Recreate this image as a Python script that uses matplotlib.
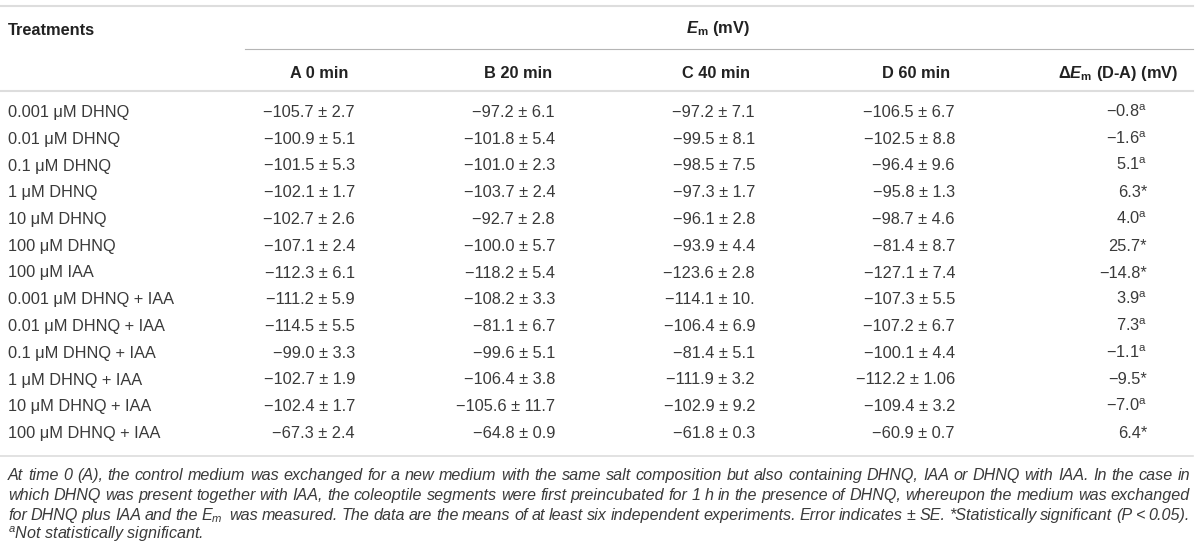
import matplotlib
matplotlib.use("Agg")
import matplotlib.pyplot as plt

plt.rcParams['font.family'] = ['Liberation Sans', 'DejaVu Sans']
plt.rcParams['mathtext.fontset'] = 'custom'
plt.rcParams['mathtext.rm'] = 'Liberation Sans'
plt.rcParams['mathtext.it'] = 'Liberation Sans:italic'
plt.rcParams['mathtext.bf'] = 'Liberation Sans:bold'
plt.rcParams['mathtext.bfit'] = 'Liberation Sans:bold:italic'

# table data
treatments = ["0.001 μM DHNQ", "0.01 μM DHNQ", "0.1 μM DHNQ", "1 μM DHNQ",
              "10 μM DHNQ", "100 μM DHNQ", "100 μM IAA",
              "0.001 μM DHNQ + IAA", "0.01 μM DHNQ + IAA", "0.1 μM DHNQ + IAA",
              "1 μM DHNQ + IAA", "10 μM DHNQ + IAA", "100 μM DHNQ + IAA"]
a_mean = [-105.7, -100.9, -101.5, -102.1, -102.7, -107.1, -112.3, -111.2, -114.5, -99.0, -102.7, -102.4, -67.3]
a_se = ["2.7", "5.1", "5.3", "1.7", "2.6", "2.4", "6.1", "5.9", "5.5", "3.3", "1.9", "1.7", "2.4"]
b_mean = [-97.2, -101.8, -101.0, -103.7, -92.7, -100.0, -118.2, -108.2, -81.1, -99.6, -106.4, -105.6, -64.8]
b_se = ["6.1", "5.4", "2.3", "2.4", "2.8", "5.7", "5.4", "3.3", "6.7", "5.1", "3.8", "11.7", "0.9"]
c_mean = [-97.2, -99.5, -98.5, -97.3, -96.1, -93.9, -123.6, -114.1, -106.4, -81.4, -111.9, -102.9, -61.8]
c_se = ["7.1", "8.1", "7.5", "1.7", "2.8", "4.4", "2.8", "10.", "6.9", "5.1", "3.2", "9.2", "0.3"]
d_mean = [-106.5, -102.5, -96.4, -95.8, -98.7, -81.4, -127.1, -107.3, -107.2, -100.1, -112.2, -109.4, -60.9]
d_se = ["6.7", "8.8", "9.6", "1.3", "4.6", "8.7", "7.4", "5.5", "6.7", "4.4", "1.06", "3.2", "0.7"]
delta = [-0.8, -1.6, 5.1, 6.3, 4.0, 25.7, -14.8, 3.9, 7.3, -1.1, -9.5, -7.0, 6.4]
delta_mark = ["a", "a", "a", "*", "a", "*", "*", "a", "a", "a", "*", "a", "*"]

col_headers = ["A 0 min", "B 20 min", "C 40 min", "D 60 min", r"Δ$\mathbfit{E}_\mathbf{m}$ (D-A) (mV)"]

caption_lines = [
    "At time 0 (A), the control medium was exchanged for a new medium with the same salt composition "
    "but also containing DHNQ, IAA or DHNQ with IAA. In the case in",
    "which DHNQ was present together with IAA, the coleoptile segments were first preincubated for 1 h "
    "in the presence of DHNQ, whereupon the medium was exchanged",
    "for DHNQ plus IAA and the $E_m$ was measured. The data are the means of at least six independent "
    "experiments. Error indicates ± SE. *Statistically significant (P < 0.05).",
]
caption_last = "$^{a}$Not statistically significant."

TXT = '#3a3a3a'
HEAD = '#222222'
LINE = '#dddddd'
FS = 11.8
CFS = 11.6


def fmt(v):
    s = f"{abs(v):.1f}"
    return ("−" + s) if v < 0 else s


fig = plt.figure(figsize=(12, 5.46), dpi=100)
ax = fig.add_axes([0, 0, 1, 1])
ax.set_xlim(0, 1200)
ax.set_ylim(546, 0)
ax.axis('off')

# rules
ax.plot([0, 1193], [6, 6], color=LINE, lw=1.5)
ax.plot([245, 1193], [49, 49], color='#b5b5b5', lw=0.8)
ax.plot([0, 1193], [91, 91], color=LINE, lw=1.5)
ax.plot([0, 1193], [456, 456], color=LINE, lw=1.2)

# headers
ax.text(8, 35, "Treatments", fontsize=FS, fontweight='bold', color=HEAD, va='baseline')
ax.text(718, 33, r"$\mathbfit{E}_\mathbf{m}$ (mV)", fontsize=FS, fontweight='bold',
        color=HEAD, va='baseline', ha='center')
head_right = [348, 552, 750, 950, 1178]
for h, xr in zip(col_headers, head_right):
    ax.text(xr, 78, h, fontsize=FS, fontweight='bold', color=HEAD, va='baseline', ha='right')

# body
val_right = [355, 555, 755, 955, 1147]
row0, step = 117, 26.75
for i, name in enumerate(treatments):
    y = row0 + i * step
    ax.text(8, y, name, fontsize=FS, color=TXT, va='baseline')
    cols = [(a_mean, a_se), (b_mean, b_se), (c_mean, c_se), (d_mean, d_se)]
    for (m, se), xr in zip(cols, val_right):
        ax.text(xr, y, f"{fmt(m[i])} ± {se[i]}", fontsize=FS, color=TXT, va='baseline', ha='right')
    mark = delta_mark[i]
    lab = fmt(delta[i]) + ("$^{\\mathrm{a}}$" if mark == "a" else "*")
    ax.text(val_right[4], y, lab, fontsize=FS, color=TXT, va='baseline', ha='right')

# caption, justified between x=8 and x=1190
renderer = fig.canvas.get_renderer()


def text_w(s):
    t = ax.text(0, 0, s.replace("$E_m$", "Em"), fontsize=CFS, style='italic')
    w = t.get_window_extent(renderer).width
    t.remove()
    return w


cap_y = [480, 500, 520]
for line, y in zip(caption_lines, cap_y):
    words = line.split(" ")
    full = text_w(line)
    extra = (1190 - 8 - full) / (len(words) - 1)
    for k, w in enumerate(words):
        xk = text_w(" ".join(words[:k + 1])) - text_w(w)
        ax.text(8 + xk + k * extra, y, w, fontsize=CFS, style='italic', color=TXT, va='baseline')
ax.text(8, 539, caption_last, fontsize=CFS, style='italic', color=TXT, va='baseline')

fig.savefig("out.png", dpi=100)
